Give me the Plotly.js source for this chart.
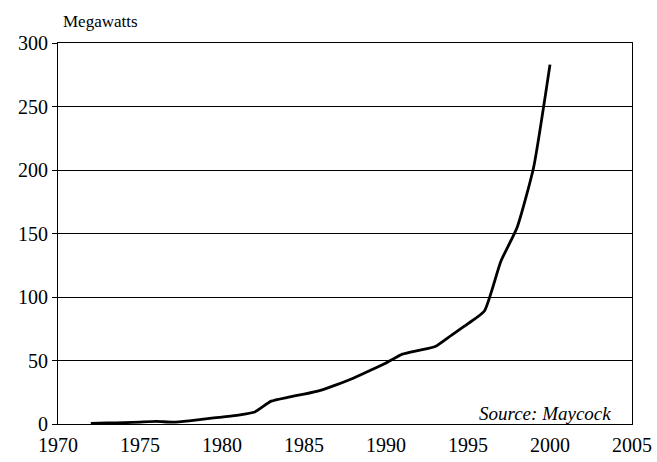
<!DOCTYPE html>
<html>
<head>
<meta charset="utf-8">
<script src="https://cdn.plot.ly/plotly-3.0.1.min.js"></script>
<style>html,body{margin:0;padding:0;background:#fff;}#chart{width:657px;height:462px;}</style>
</head>
<body>
<div id="chart"></div>
<script>
const years = [1972,1973,1974,1975,1976,1977,1978,1979,1980,1981,1982,1983,1984,1985,1986,1987,1988,1989,1990,1991,1992,1993,1994,1995,1996,1997,1998,1999,2000];
const megawatts = [0.5,0.8,1,1.5,2,1.5,2.5,4,5.5,7,9.5,18,21,23.5,26.5,31,36,42,48,55,58,61,70,79,89,128,155,202,283];
const xTicks = [1970,1975,1980,1985,1990,1995,2000,2005];
const yTicks = [0,50,100,150,200,250,300];

const font = 'Liberation Serif, Times New Roman, serif';

Plotly.newPlot('chart', [{
  x: years, y: megawatts, type: 'scatter', mode: 'lines',
  line: {color: '#000', width: 2.8, shape: 'spline', smoothing: 0.5},
  hoverinfo: 'skip'
}], {
  width: 657, height: 462,
  margin: {l: 58, r: 25, t: 43, b: 38},
  paper_bgcolor: '#fff', plot_bgcolor: '#fff',
  showlegend: false,
  font: {family: font, color: '#000', size: 20},
  xaxis: {
    range: [1970, 2005], tickvals: xTicks, ticktext: xTicks.map(String),
    showgrid: false, zeroline: false, showline: true, linecolor: '#000', linewidth: 1,
    mirror: true, ticks: '', ticklabelstandoff: 3,
    tickfont: {family: font, size: 20, color: '#000'}
  },
  yaxis: {
    range: [0, 300], tickvals: yTicks, ticktext: yTicks.map(String),
    showgrid: true, gridcolor: '#000', gridwidth: 1, zeroline: false,
    showline: true, linecolor: '#000', linewidth: 1, mirror: true,
    ticks: 'outside', ticklen: 5, tickcolor: '#000',
    tickfont: {family: font, size: 20, color: '#000'}
  },
  annotations: [
    {text: 'Megawatts', xref: 'paper', yref: 'paper', x: 0.005, y: 1, xanchor: 'left', yanchor: 'bottom', yshift: 10, showarrow: false, font: {family: font, size: 17, color: '#000'}},
    {text: '<i>Source: Maycock</i>', xref: 'paper', yref: 'paper', x: 0.967, y: 0, xanchor: 'right', yanchor: 'bottom', yshift: -2, showarrow: false, font: {family: font, size: 19, color: '#000'}}
  ]
}, {staticPlot: true});
</script>
</body>
</html>
